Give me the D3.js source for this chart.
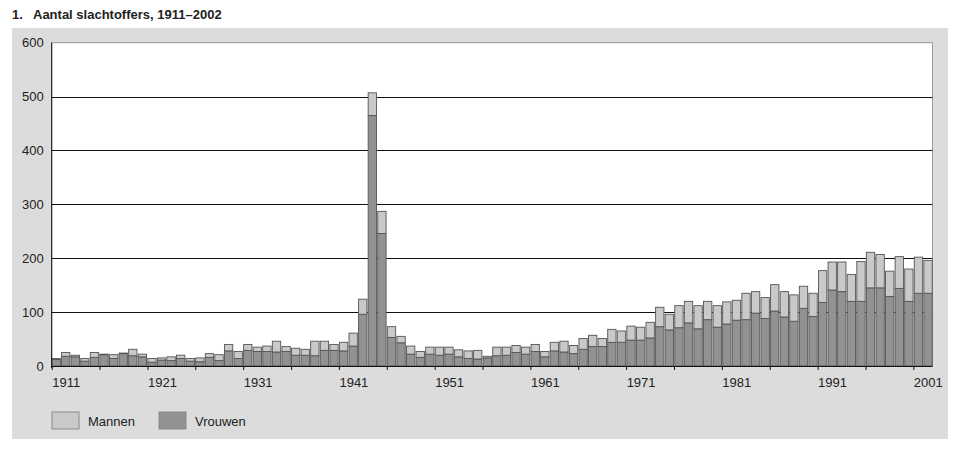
<!DOCTYPE html>
<html><head><meta charset="utf-8">
<script src="https://cdn.jsdelivr.net/npm/d3@7"></script>
<style>body{margin:0;background:#fff}svg{display:block}text{font-family:"Liberation Sans",Arial,sans-serif}</style>
</head><body><svg id="c" width="961" height="449"></svg>
<script>
const years = d3.range(1911, 2003);
const vrouwen = [12,18,17,9,16,21,14,23,19,17, 7,11,10,14,9,8,16,10,28,14, 29,27,27,26,27,20,20,19,29,29, 28,37,96,465,246,53,43,22,16,22, 20,22,17,14,13,15,19,20,25,22, 27,17,28,26,23,31,36,36,44,44, 48,48,52,73,67,71,80,69,86,72, 78,85,86,98,88,102,91,83,107,92, 118,141,138,120,120,145,145,129,144,120, 135,135];
const mannen = [2,7,3,5,9,1,7,1,12,5, 7,4,7,6,5,7,7,11,12,13, 11,8,10,20,9,13,11,27,17,11, 16,24,28,42,41,20,12,15,11,13, 15,13,13,14,16,3,16,15,13,13, 13,10,16,20,15,20,21,15,24,21, 26,24,29,36,29,41,40,43,34,40, 41,37,49,40,39,49,47,49,41,43, 59,52,55,50,74,66,62,47,59,60, 67,61];
const yTicks = [0,100,200,300,400,500,600];
const labelYears = [1911,1921,1931,1941,1951,1961,1971,1981,1991,2001];
const series = [{key:"mannen", name:"Mannen", color:"#c9c9c9"},{key:"vrouwen", name:"Vrouwen", color:"#929292"}];

const svg = d3.select("#c");
const L = 51.7, R = 932.5, T = 42.7, B = 366;

svg.append("rect").attr("x",12).attr("y",28).attr("width",936).attr("height",411).attr("fill","#dcdcdc");
svg.append("text").attr("x",12).attr("y",19).attr("font-size",13).attr("font-weight","bold").attr("fill","#222").text("1.");
svg.append("text").attr("x",33).attr("y",19).attr("font-size",13).attr("font-weight","bold").attr("fill","#222").text("Aantal slachtoffers, 1911–2002");

svg.append("rect").attr("x",L).attr("y",T).attr("width",R-L).attr("height",B-T).attr("fill","#fff").attr("stroke","#9a9a9a").attr("stroke-width",1);

const y = d3.scaleLinear().domain([0,600]).range([B,T]);
const xb = d3.scaleBand().domain(years).range([L,R]).paddingInner(0.13).paddingOuter(0.03);
const xl = d3.scaleLinear().domain([1911,2003]).range([L,R]);

// gridlines
svg.append("g").selectAll("line").data(yTicks.filter(d=>d>0&&d<600)).join("line")
  .attr("x1",L).attr("x2",R).attr("y1",d=>Math.round(y(d))+0.5).attr("y2",d=>Math.round(y(d))+0.5)
  .attr("stroke","#111").attr("stroke-width",1);

const data = years.map((yr,i)=>({year:yr, vrouwen:vrouwen[i], mannen:mannen[i]}));
const stack = d3.stack().keys(["vrouwen","mannen"])(data);
const colorOf = {vrouwen:"#929292", mannen:"#c9c9c9"};
svg.append("g").selectAll("g").data(stack).join("g").attr("fill",d=>colorOf[d.key])
  .selectAll("rect").data(d=>d).join("rect")
  .attr("x",d=>xb(d.data.year)).attr("width",xb.bandwidth())
  .attr("y",d=>y(d[1])).attr("height",d=>y(d[0])-y(d[1]))
  .attr("stroke","#555").attr("stroke-width",0.9);

// y axis
const ya = svg.append("g").attr("transform",`translate(${L},0)`)
  .call(d3.axisLeft(y).tickValues(yTicks).tickSize(0).tickPadding(8));
ya.select(".domain").remove();
ya.selectAll("text").attr("font-size",13).attr("fill","#222").attr("font-family","Liberation Sans, Arial, sans-serif");
svg.append("line").attr("x1",L).attr("x2",L).attr("y1",T).attr("y2",B+2).attr("stroke","#111");

// x axis
const xa = svg.append("g").attr("transform",`translate(0,${B})`)
  .call(d3.axisBottom(xl).tickValues(d3.range(1911,2002,5)).tickSize(4).tickPadding(8)
    .tickFormat(d=>labelYears.includes(d)?String(d):""));
xa.select(".domain").attr("d",`M${L},0.5H${R}`).attr("stroke","#111");
xa.selectAll(".tick line").attr("stroke","#111");
xa.selectAll("text").attr("text-anchor","start").attr("font-size",13).attr("fill","#222").attr("font-family","Liberation Sans, Arial, sans-serif");

// legend
const lg = svg.append("g").selectAll("g").data(series).join("g")
  .attr("transform",(d,i)=>`translate(${52+i*107},412)`);
lg.append("rect").attr("width",27).attr("height",17).attr("fill",d=>d.color).attr("stroke","#8a8a8a");
lg.append("text").attr("x",36).attr("y",14).attr("font-size",13).attr("fill","#222").text(d=>d.name);
</script></body></html>
